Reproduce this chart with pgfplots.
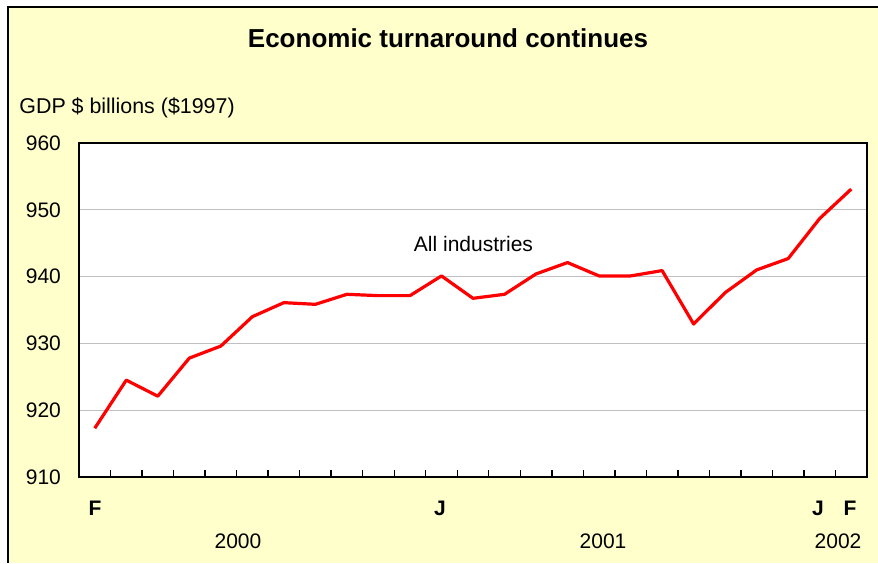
\documentclass[border=0pt]{standalone}
\usepackage{pgfplots}
\pgfplotsset{compat=1.18}
\usepackage{fontspec}
\setmainfont{Liberation Sans}
\definecolor{bgyellow}{HTML}{FFFFCC}
\definecolor{gridgray}{HTML}{C0C0C0}
\begin{document}
\begin{tikzpicture}
\path[use as bounding box] (0pt,0pt) rectangle (439pt,281.5pt);
\fill[bgyellow] (4pt,0pt) rectangle (439pt,278pt);
\draw[black,line width=1.2pt] (4pt,0pt) -- (4pt,278pt) -- (439pt,278pt);
\begin{axis}[
  at={(39.5pt,43pt)}, anchor=south west,
  width=394pt, height=167pt, scale only axis,
  xmin=-0.5, xmax=24.5, ymin=910, ymax=960,
  axis background/.style={fill=white},
  axis line style={black, line width=0.6pt},
  xtick={0.5,1.5,...,23.5}, xticklabels={},
  xtick pos=bottom,
  tick align=inside, major tick length=3.3pt,
  x tick style={black, line width=0.7pt},
  ytick={910,920,...,960},
  y tick style={draw=none},
  ymajorgrids, grid style={gridgray, line width=0.6pt},
  y tick label style={xshift=-5.5pt},
  tick label style={font=\fontsize{10.5}{12}\selectfont},
  /pgf/number format/assume math mode=true,
  clip=false,
]
\addplot[red, line width=1.6pt, line join=round] coordinates {
(0,917.3) (1,924.5) (2,922.1) (3,927.8) (4,929.6) (5,934.0) (6,936.1)
(7,935.85) (8,937.35) (9,937.15) (10,937.15) (11,940.1) (12,936.75)
(13,937.35) (14,940.4) (15,942.1) (16,940.1) (17,940.1) (18,940.9)
(19,932.9) (20,937.6) (21,941.0) (22,942.7) (23,948.7) (24,953.1)
};
\draw[black, line width=1.2pt] (axis cs:-0.5,960) -- (axis cs:-0.5,910) -- (axis cs:24.5,910);
\end{axis}
\begin{scope}[x=0.5pt,y=0.5pt]
\node[anchor=base, inner sep=0pt, font=\fontsize{13}{15}\selectfont\bfseries] at (448,515) {Economic turnaround continues};
\node[anchor=base west, inner sep=0pt, font=\fontsize{10.7}{12}\selectfont] at (19,449) {GDP \$ billions (\$1997)};
\node[anchor=base, inner sep=0pt, font=\fontsize{10.5}{12}\selectfont] at (473.5,311) {All industries};
\foreach \xx/\lab in {95/F,440/J,818/J,850/F}{
  \node[anchor=base, inner sep=0pt, font=\fontsize{10.5}{12}\selectfont\bfseries] at (\xx,48) {\lab};
}
\foreach \xx/\lab in {238/2000,603/2001,838/2002}{
  \node[anchor=base, inner sep=0pt, font=\fontsize{10.5}{12}\selectfont] at (\xx,15) {\lab};
}
\end{scope}
\end{tikzpicture}
\end{document}
